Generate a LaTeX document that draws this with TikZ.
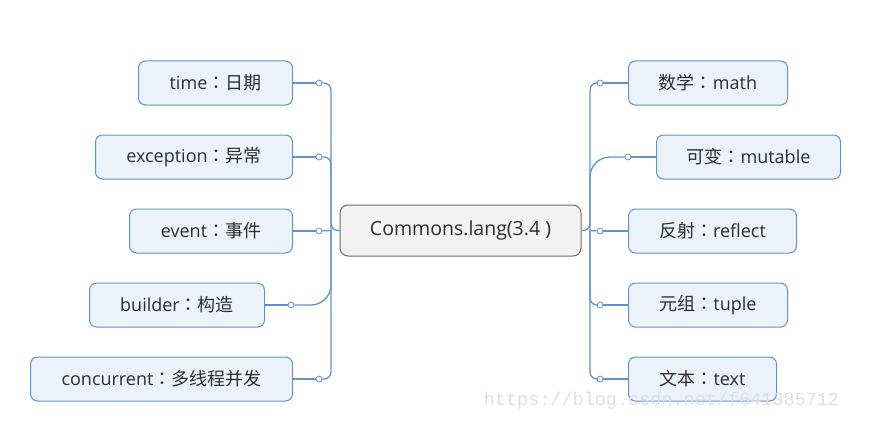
\documentclass[tikz,border=0pt]{standalone}
\usepackage{fontspec}
\setmainfont{Open Sans}
\setmonofont{Liberation Mono}
\newfontfamily\cjk{Noto Sans CJK SC}
\newfontfamily\cjkcolon{Noto Sans CJK TC}
\usetikzlibrary{positioning}
\definecolor{leafblue}{RGB}{236,242,250}
\definecolor{edgeblue}{RGB}{98,146,203}
\definecolor{hubgray}{RGB}{242,242,242}
\definecolor{textdark}{RGB}{45,45,45}
\newcommand\zh[1]{{\cjk #1}}
\newcommand\zc{{\cjkcolon ：}}
\tikzset{
  leaf/.style={draw=edgeblue, fill=leafblue, rounded corners=7pt, minimum height=44pt, line width=1pt, text=textdark, font=\fontsize{18}{21}\selectfont},
  hub/.style={draw=gray!85!black, fill=hubgray, rounded corners=8pt, minimum width=241pt, minimum height=51pt, line width=1pt, text=textdark, font=\fontsize{19.5}{22}\selectfont},
  linkdot/.style={circle, draw=edgeblue, fill=white, inner sep=0pt, minimum size=6pt, line width=0.8pt},
  branch/.style={draw=edgeblue, line width=1.3pt, rounded corners=7pt}
}
\begin{document}
\begin{tikzpicture}[x=1pt,y=-1pt]
      \useasboundingbox (0,0) rectangle (875,428);
      \node[hub] at (460.5,230.5) (lang) {Commons.lang(3.4 )};
      \coordinate (lj) at (331,230.5);
      \coordinate (rj) at (590,230.5);
      \node[leaf, anchor=east, minimum width=154pt] at (293,83) (time) {time\zc\zh{日期}};
      \node[leaf, anchor=east, minimum width=197pt] at (293,157) (except) {exception\zc\zh{异常}};
      \node[leaf, anchor=east, minimum width=163pt] at (293,231) (event) {event\zc\zh{事件}};
      \node[leaf, anchor=east, minimum width=175pt] at (265,305) (build) {builder\zc\zh{构造}};
      \node[leaf, anchor=east, minimum width=262pt] at (293,379) (conc) {concurrent\zc\zh{多线程并发}};
      \node[leaf, anchor=west, minimum width=159pt] at (628,83) (math) {\zh{数学}\zc math};
      \node[leaf, anchor=west, minimum width=184pt] at (656,157) (mut) {\zh{可变}\zc mutable};
      \node[leaf, anchor=west, minimum width=168pt] at (628,231) (refl) {\zh{反射}\zc reflect};
      \node[leaf, anchor=west, minimum width=159pt] at (628,305) (tuple) {\zh{元组}\zc tuple};
      \node[leaf, anchor=west, minimum width=148pt] at (628,379) (text) {\zh{文本}\zc text};
      \node[linkdot] at (319,83) (time-d) {};
      \node[linkdot] at (319,157) (except-d) {};
      \node[linkdot] at (319,231) (event-d) {};
      \node[linkdot] at (291,305) (build-d) {};
      \node[linkdot] at (319,379) (conc-d) {};
      \node[linkdot] at (600,83) (math-d) {};
      \node[linkdot] at (628,157) (mut-d) {};
      \node[linkdot] at (600,231) (refl-d) {};
      \node[linkdot] at (600,305) (tuple-d) {};
      \node[linkdot] at (600,379) (text-d) {};
      \draw[branch] (time)--(time-d);
      \draw[branch] (except)--(except-d);
      \draw[branch] (event)--(event-d);
      \draw[branch] (build)--(build-d);
      \draw[branch] (conc)--(conc-d);
      \draw[branch] (math)--(math-d);
      \draw[branch] (mut)--(mut-d);
      \draw[branch] (refl)--(refl-d);
      \draw[branch] (tuple)--(tuple-d);
      \draw[branch] (text)--(text-d);
      \draw[branch] (time-d) -| (lj) -- (lang);
      \draw[branch] (except-d) -| (lj);
      \draw[branch] (event-d) -- (lj);
      \draw[branch, rounded corners=20pt] (build-d) -| (lj);
      \draw[branch] (conc-d) -| (lj);
      \draw[branch] (math-d) -| (rj) -- (lang);
      \draw[branch, rounded corners=20pt] (mut-d) -| (rj);
      \draw[branch] (refl-d) -- (rj);
      \draw[branch] (tuple-d) -| (rj);
      \draw[branch] (text-d) -| (rj);
      \node[text=gray!25, font=\fontsize{18.5}{18.5}\selectfont\ttfamily] at (661.5,401) (mark) {https://blog.csdn.net/f641385712};
    \end{tikzpicture}
\end{document}
